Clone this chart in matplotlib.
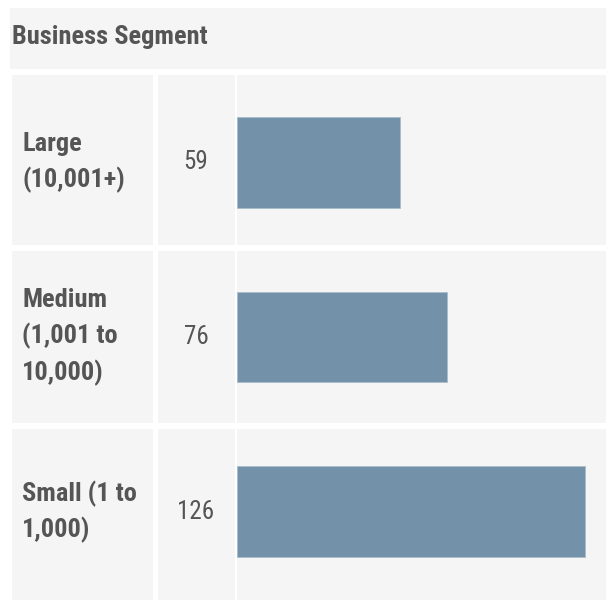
import matplotlib.pyplot as plt
import matplotlib.transforms as mtransforms
from matplotlib.patches import Rectangle

title = 'Business Segment'
segments = ['Large\n(10,001+)', 'Medium\n(1,001 to\n10,000)', 'Small (1 to\n1,000)']
counts = [59, 76, 126]

W, H = 606, 600
cell_bg = '#f5f5f5'
bar_color = '#7392aa'
text_color = '#555555'
narrow = ['Roboto Condensed', 'DejaVu Sans']

fig = plt.figure(figsize=(W / 100, H / 100), dpi=100)
fig.patch.set_facecolor('white')


def cell(x0, y0, x1, y1):
    # rectangle given in pixels, origin at the top left
    r = Rectangle((x0 / W, 1 - y1 / H), (x1 - x0) / W, (y1 - y0) / H,
                  transform=fig.transFigure, facecolor=cell_bg,
                  edgecolor='none', zorder=-1)
    fig.add_artist(r)


# header strip
cell(10, 8, 606, 69)
fig.text(12 / W, 1 - 37 / H, title, fontsize=19, fontweight='bold',
         color=text_color, family=narrow, va='center', ha='left')

# table cells for each row
rows = [(75, 245), (251, 423), (429, 600)]
for top, bottom in rows:
    cell(12, top, 153, bottom)
    cell(158, top, 235, bottom)
    cell(237, top, 606, bottom)

# bar column, one row per segment
ax = fig.add_axes([237 / W, 1 / H, (606 - 237) / W, (600 - 76) / H])
ax.set_facecolor('none')
ax.barh(range(len(counts)), counts, height=0.52, color=bar_color,
        edgecolor='#a9bccb', linewidth=0.6)
ax.set_xlim(0, 133.6)
ax.set_ylim(2.5, -0.5)
ax.axis('off')

trans = mtransforms.blended_transform_factory(fig.transFigure, ax.transData)
for i, (seg, n) in enumerate(zip(segments, counts)):
    fig.text(22 / W, i, seg, transform=trans, fontsize=19, fontweight='bold',
             color=text_color, family=narrow, va='center', ha='left',
             linespacing=1.5)
    fig.text(196 / W, i, str(n), transform=trans, fontsize=18,
             color=text_color, family=narrow, va='center', ha='center')

fig.savefig('out.png', dpi=100)
